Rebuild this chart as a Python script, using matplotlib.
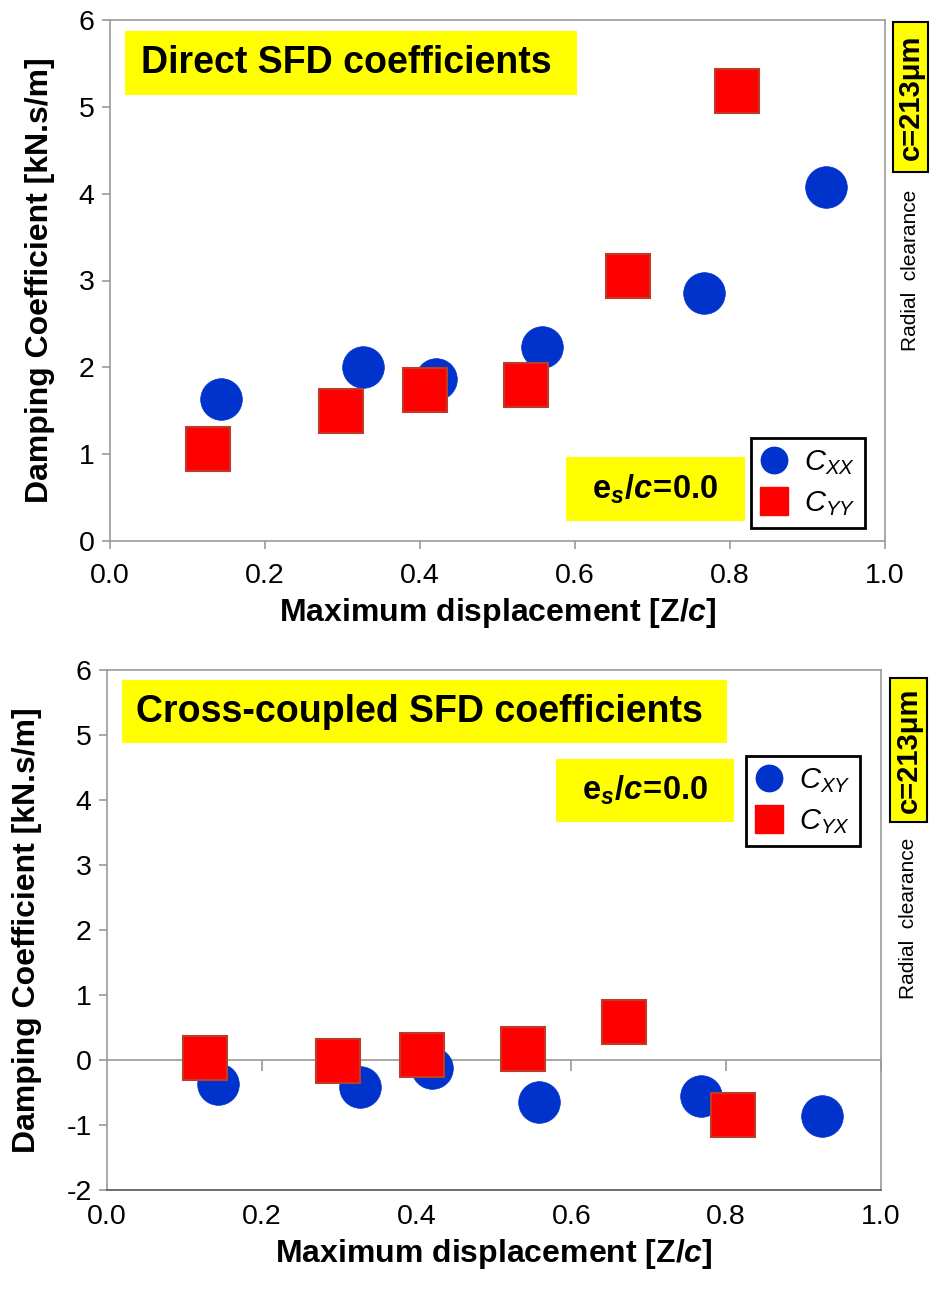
import matplotlib
matplotlib.use("Agg")
import matplotlib.pyplot as plt
from matplotlib.lines import Line2D
from matplotlib.patches import Rectangle
from matplotlib import markers

plt.rcParams['font.family'] = ['Liberation Sans', 'DejaVu Sans']
plt.rcParams['axes.unicode_minus'] = False
plt.rcParams['mathtext.fontset'] = 'custom'
plt.rcParams['mathtext.rm'] = 'Liberation Sans'
plt.rcParams['mathtext.it'] = 'Liberation Sans:italic'
plt.rcParams['mathtext.bf'] = 'Liberation Sans:bold'
plt.rcParams['mathtext.bfit'] = 'Liberation Sans:italic:bold'

# displacement Z/c of each test point
z_circ = [0.143, 0.327, 0.420, 0.558, 0.767, 0.924]
z_sq = [0.126, 0.298, 0.407, 0.537, 0.668, 0.809]

# direct coefficients [kN.s/m]
cxx = [1.63, 2.00, 1.87, 2.23, 2.86, 4.08]
cyy = [1.06, 1.50, 1.74, 1.80, 3.05, 5.18]

# cross-coupled coefficients [kN.s/m]
cxy = [-0.37, -0.42, -0.12, -0.65, -0.56, -0.86]
cyx = [0.03, -0.01, 0.07, 0.17, 0.58, -0.85]

xticks = [0.0, 0.2, 0.4, 0.6, 0.8, 1.0]

BLUE = '#0033cc'
RED = '#ff0000'
YELLOW = '#ffff00'
GRAY = '#9a9a9a'

W, H = 930, 1293
fig = plt.figure(figsize=(W / 100, H / 100), dpi=100)


def px_box(x0, y0, x1, y1):
    # pixel box (top-left origin) -> figure fraction rect
    return [x0 / W, 1 - y1 / H, (x1 - x0) / W, (y1 - y0) / H]


def yellow_box(x0, y0, x1, y1, edge=None):
    r = px_box(x0, y0, x1, y1)
    fig.patches.append(Rectangle((r[0], r[1]), r[2], r[3], transform=fig.transFigure,
                                 facecolor=YELLOW, edgecolor=edge or YELLOW,
                                 lw=1.5 if edge else 0, zorder=5))
    return r[0] + r[2] / 2, r[1] + r[3] / 2


def panel(rect, yc, ys, lab_c, lab_s, ylim, title, tbox, ebox, leg_anchor, cbox, rad_y, ylab_x):
    ax = fig.add_axes(px_box(*rect))
    ax.plot(z_circ, yc, 'o', ms=30, color=BLUE, mec=BLUE, mew=0.5, zorder=3)
    ax.plot(z_sq, ys, 's', ms=31, color=RED, mec='#c0392b', mew=1.5, zorder=3)
    ax.set_xlim(0, 1)
    ax.set_ylim(*ylim)
    ax.set_xticks(xticks)
    ax.set_xticklabels(['%.1f' % t for t in xticks])
    ax.set_yticks(range(ylim[0], ylim[1] + 1))
    for s in ax.spines.values():
        s.set_color(GRAY)
        s.set_linewidth(1.2)
    ax.tick_params(axis='both', labelsize=20.5, color=GRAY, width=1.2, length=6)
    ax.tick_params(axis='x', pad=10)
    ax.tick_params(axis='y', pad=5)
    if ylim[0] < 0:
        # category axis crosses at zero
        ax.spines['bottom'].set_color('#555555')
        ax.tick_params(axis='x', length=0)
        ax.axhline(0, color=GRAY, lw=1.2, zorder=1)
        ax.plot(xticks[1:], [0] * (len(xticks) - 1), ls='none', marker=markers.TICKDOWN,
                ms=8, mew=1.2, color=GRAY, zorder=1, clip_on=False)
    ax.set_xlabel('Maximum displacement [Z/$\\mathbfit{c}$]', fontsize=23, fontweight='bold',
                  labelpad=5)
    fig.text(ylab_x / W, 1 - (rect[1] + rect[3]) / 2 / H, 'Damping Coefficient [kN.s/m]',
             rotation=90, fontsize=23, fontweight='bold', ha='center', va='center')

    cx, cy = yellow_box(*tbox)
    fig.text(cx - 5 / W, cy, title, fontsize=27, fontweight='bold', ha='center', va='center',
             zorder=6)
    cx, cy = yellow_box(*ebox)
    fig.text(cx, cy, r'$\mathbf{e}_{\mathbfit{s}}\mathbf{/}\mathbfit{c}\!\mathbf{=}\!\mathbf{0.0}$',
             fontsize=23.5, ha='center', va='center', zorder=6)
    cx, cy = yellow_box(*cbox, edge='black')
    fig.text(cx, cy, 'c=213\u03bcm', rotation=90, fontsize=21, fontweight='bold',
             ha='center', va='center', zorder=6)
    fig.text(cbox[0] / W + (cbox[2] - cbox[0]) / 2 / W, 1 - rad_y / H, 'Radial  clearance',
             rotation=90, fontsize=15, ha='center', va='center')

    handles = [Line2D([], [], ls='none', marker='o', ms=19, color=BLUE),
               Line2D([], [], ls='none', marker='s', ms=19.5, color=RED)]
    leg = ax.legend(handles, [lab_c, lab_s], loc='upper left',
                    bbox_to_anchor=(leg_anchor[0] / W, 1 - leg_anchor[1] / H),
                    bbox_transform=fig.transFigure, fontsize=21, frameon=True,
                    fancybox=False, edgecolor='black', framealpha=1,
                    handlelength=0.9, handletextpad=0.55, borderpad=0.35,
                    labelspacing=0.42, borderaxespad=0)
    leg.get_frame().set_linewidth(2)
    return ax


panel((110, 20, 885, 541), cxx, cyy, '$C_{XX}$', '$C_{YY}$', (0, 6),
      'Direct SFD coefficients', (125, 31, 577, 95), (566, 457, 745, 521),
      (751, 438), (893, 22, 928, 172), 270, 40)

panel((107, 670, 881, 1190), cxy, cyx, '$C_{XY}$', '$C_{YX}$', (-2, 6),
      'Cross-coupled SFD coefficients', (122, 680, 727, 743), (556, 759, 734, 822),
      (746, 756), (890, 678, 927, 822), 918, 27)

fig.savefig('out.png', dpi=100)
